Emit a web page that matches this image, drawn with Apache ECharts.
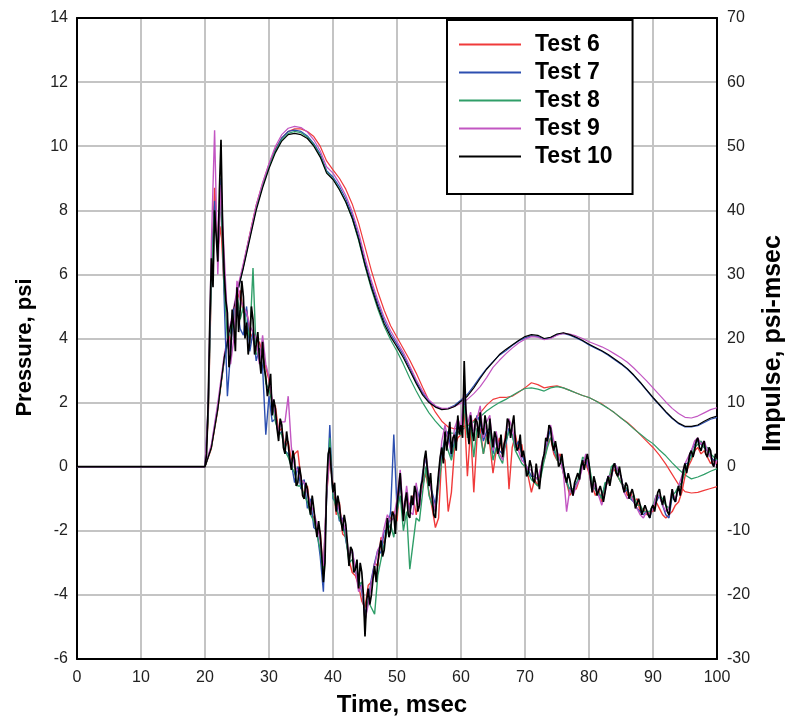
<!DOCTYPE html>
<html>
<head>
<meta charset="utf-8">
<script src="https://cdn.jsdelivr.net/npm/echarts@6/dist/echarts.min.js"></script>
<style>
  html, body { margin: 0; padding: 0; background: #fff; }
  #chart { width: 788px; height: 719px; }
</style>
</head>
<body>
<div id="chart"></div>
<script>
// pressure traces, psi, flat zero before 20 ms
// tests 6-9 sampled every 0.5 ms, test 10 every 0.25 ms
var pStart = 20, pStep = 0.5, pStepFine = 0.25;
var press6 = [
  0, 1.5, 5.8, 8.7, 6.8, 7.5, 5.5, 4.4, 3.8, 4.8,
  5.2, 5.5, 4.8, 4.9, 4.2, 4.0, 3.6, 3.9, 3.5, 3.1,
  2.7, 2.0, 1.9, 1.1, 1.2, 0.6, 0.8, 0.2, 0.4, 0.5,
  -0.4, -1.0, -0.6, -1.4, -1.6, -2.1, -2.0, -3.3, -0.9, 0.3,
  -0.6, -1.5, -1.1, -2.1, -2.2, -2.9, -3.3, -3.4, -3.7, -4.2,
  -4.4, -3.7, -3.6, -3.0, -3.1, -2.2, -2.4, -1.8, -1.6, -1.4,
  -1.7, -0.4, -1.4, -1.0, -1.2, -0.9, -1.5, -1.0, -0.6, -0.2,
  -0.8, -1.3, -1.9, -1.6, 0.4, 0.2, -1.4, -0.8, 0.6, 0.9,
  1.0, 1.8, -0.3, 1.2, -0.8, 0.9, 1.2, 0.4, 1.0, 0.7,
  -0.2, 0.5, 0.9, 0.4, 1.1, -0.7, 0.6, 1.0, 0.5, 0.7,
  0.0, -0.3, -0.8, -0.4, -0.6, 0.0, 0.2, 0.7, 0.9, 0.4,
  0.2, 0.4, -0.2, -0.5, -0.9, -0.7, -0.7, -0.4, 0.2, 0.1,
  -0.2, -0.6, -0.9, -0.7, -1.1, -0.6, -0.5, -0.1, -0.1, -0.3,
  -0.5, -0.6, -0.9, -0.8, -1.1, -1.0, -1.4, -1.3, -1.5, -1.4,
  -1.4, -1.1, -1.3, -1.5, -1.6, -1.5, -1.4, -1.2, -1.1, -0.8,
  -0.3, 0.0, 0.2, 0.5, 0.6, 0.4, 0.5, 0.3, 0.1, 0.2, 0.1
];
var press7 = [
  0, 1.8, 6.2, 8.3, 6.6, 9.0, 5.2, 2.2, 3.6, 4.9,
  5.0, 4.3, 4.1, 5.0, 3.6, 4.2, 3.3, 3.7, 3.1, 1.0,
  2.2, 1.4, 1.5, 1.0, 1.1, 0.5, 0.4, 0.1, -0.5, 0.0,
  -0.7, -0.4, -1.3, -1.0, -1.9, -2.0, -2.8, -3.9, -1.0, 1.3,
  -1.0, -1.1, -1.7, -1.6, -2.3, -2.8, -2.6, -3.3, -3.5, -3.9,
  -4.6, -4.2, -3.5, -3.0, -2.6, -2.7, -2.0, -2.0, -1.4, 1.0,
  -1.3, -0.5, -1.4, -0.9, -1.4, -1.0, -0.6, -1.0, -0.2, 0.3,
  -0.5, -0.8, -1.2, -0.3, 0.4, 0.9, 1.1, 0.3, 0.8, 1.4,
  1.1, 2.2, 1.0, 1.4, 1.0, 1.6, 1.4, 0.8, 1.1, 1.2,
  0.4, 1.0, 0.5, 0.4, 0.7, 1.2, 1.0, 0.6, 0.8, 0.4,
  0.1, -0.1, -0.3, -0.3, -0.4, -0.1, 0.4, 0.8, 1.2, 0.5,
  0.3, 0.2, 0.0, -0.5, -0.7, -0.7, -0.5, -0.4, 0.2, 0.2,
  -0.1, -0.6, -0.7, -0.9, -0.9, -0.6, -0.3, -0.3, 0.1, -0.1,
  -0.3, -0.8, -0.7, -1.0, -1.1, -1.3, -1.4, -1.5, -1.4, -1.6,
  -1.2, -1.1, -0.9, -1.2, -1.5, -1.6, -0.9, -1.1, -0.6, -0.5,
  0.1, 0.1, 0.5, 0.7, 0.8, 0.7, 0.6, 0.5, 0.3, 0.2, 0.2
];
var press8 = [
  0, 1.6, 6.0, 8.0, 6.9, 8.4, 5.6, 4.0, 4.2, 4.5,
  5.4, 4.6, 5.0, 4.4, 4.0, 6.2, 3.5, 3.6, 3.7, 2.6,
  2.4, 2.0, 1.4, 1.1, 1.0, 0.5, 0.3, 0.0, -0.2, -0.6,
  -0.6, -0.9, -1.1, -1.5, -1.7, -2.1, -2.6, -3.4, -0.8, 0.9,
  -0.9, -1.3, -1.6, -1.9, -2.2, -3.0, -2.9, -3.2, -3.7, -3.6,
  -4.8, -4.2, -4.4, -4.6, -3.4, -2.9, -2.4, -2.0, -1.8, -2.2,
  -1.4, -0.9, -2.0, -1.4, -3.2, -2.4, -1.6, -1.7, -0.8, 0.0,
  -0.9, -1.2, -1.4, -0.6, 0.2, 0.8, 0.5, 0.2, 0.7, 1.1,
  1.0, 1.9, 0.9, 1.3, 0.3, 1.2, 1.0, 0.4, 0.9, 1.1,
  0.2, 0.6, 0.3, 0.1, 0.8, 1.1, 1.0, 0.5, 0.3, 0.1,
  0.0, -0.2, -0.4, -0.5, -0.6, -0.3, 0.2, 0.6, 0.9, 0.7,
  0.2, 0.3, -0.2, -0.4, -0.8, -0.7, -0.6, -0.2, 0.3, 0.2,
  0.1, -0.5, -0.7, -0.8, -1.0, -0.5, -0.5, 0.0, 0.1, -0.3,
  -0.5, -0.6, -0.7, -1.0, -0.9, -1.2, -1.2, -1.4, -1.4, -1.4,
  -1.2, -0.9, -0.9, -1.0, -1.2, -1.3, -0.9, -0.8, -0.6, -0.5,
  -0.1, 0.1, 0.3, 0.6, 0.7, 0.8, 0.6, 0.6, 0.4, 0.3, 0.2
];
var press9 = [
  0, 1.9, 7.0, 10.5, 6.0, 8.8, 6.6, 4.6, 3.2, 4.0,
  5.8, 5.2, 5.0, 4.8, 4.4, 4.2, 4.0, 3.2, 4.1, 3.2,
  2.8, 2.1, 1.6, 1.1, 1.4, 1.4, 2.2, 0.6, 0.0, -0.1,
  -0.4, -0.5, -0.8, -1.2, -1.4, -1.8, -2.3, -3.1, -0.8, 0.4,
  -0.7, -1.0, -1.4, -1.7, -2.0, -2.8, -2.6, -3.2, -3.9, -3.7,
  -4.8, -4.3, -3.6, -3.1, -2.6, -2.4, -1.9, -1.5, -1.7, -1.6,
  -1.0, -0.1, -1.5, -0.6, -1.4, -1.5, -0.5, -1.3, -0.3, 0.4,
  -0.3, -0.9, -1.4, -0.4, 0.8, 1.3, 0.8, 0.5, 1.2, 1.5,
  1.2, 2.5, 1.3, 1.7, 1.0, 1.5, 1.9, 0.9, 1.4, 1.6,
  0.5, 1.1, 0.4, 0.2, 1.0, 1.5, 1.2, 0.7, 0.5, 0.2,
  0.1, -0.1, -0.1, -0.3, -0.4, 0.0, 0.4, 1.0, 1.3, 0.8,
  0.5, 0.2, -0.2, -1.4, -0.7, -0.9, -0.6, -0.4, 0.0, 0.4,
  -0.1, -0.8, -0.5, -0.9, -1.2, -0.8, -0.3, -0.3, 0.1, -0.1,
  -0.3, -0.8, -1.0, -0.9, -1.1, -1.3, -1.5, -1.6, -1.4, -1.5,
  -1.3, -0.9, -0.9, -1.2, -1.4, -1.3, -0.7, -1.1, -0.6, -0.3,
  0.1, 0.3, 0.5, 0.8, 0.9, 0.7, 0.8, 0.5, 0.3, 0.0, 0.2
];
var press10 = [
  0, 0.4, 2.0, 4.5, 6.5, 5.6, 8.0, 7.2, 6.4, 8.6,
  10.2, 7.5, 6.0, 5.2, 4.8, 3.1, 3.5, 4.9, 4.4, 3.6,
  5.6, 4.2, 4.9, 5.8, 5.3, 4.0, 4.5, 3.5, 3.9, 5.0,
  4.6, 3.5, 3.8, 4.2, 3.4, 2.9, 3.9, 3.1, 2.8, 2.2,
  2.5, 2.9, 1.6, 2.1, 1.8, 1.2, 0.8, 1.5, 1.3, 0.6,
  0.4, 1.1, 0.7, 0.2, -0.1, 0.5, 0.2, -0.6, -0.5, 0.0,
  -0.3, -0.9, -1.0, -0.5, -0.7, -1.2, -1.5, -0.9, -1.3, -1.8,
  -2.2, -1.7, -2.1, -2.8, -3.6, -3.0, -0.6, 0.4, 0.6, -0.2,
  -0.8, -0.5, -1.4, -0.9, -1.2, -1.7, -2.0, -1.5, -1.8, -2.4,
  -3.1, -2.5, -2.6, -3.3, -3.2, -2.9, -3.8, -3.0, -3.3, -4.0,
  -5.3, -4.2, -3.8, -4.3, -4.0, -3.5, -3.1, -3.6, -3.0, -2.6,
  -2.3, -2.8, -2.6, -2.1, -1.6, -2.2, -2.0, -1.4, -1.5, -2.1,
  -1.2, -0.7, -0.2, -1.0, -1.7, -1.1, -0.8, -1.5, -1.6, -0.9,
  -1.2, -0.6, -0.8, -1.4, -1.2, -0.6, -0.4, 0.2, 0.5, -0.1,
  -0.6, -0.2, -1.0, -1.5, -1.6, -0.8, -0.2, 0.3, 0.6, 0.1,
  1.1, 0.5, 0.9, 1.4, 0.4, 0.9, 1.0, 0.5, 1.6, 1.0,
  1.3, 0.9, 3.3, 1.8, 1.2, 0.7, 1.6, 1.1, 0.8, 1.5,
  1.4, 0.9, 1.7, 1.2, 1.0, 1.6, 1.3, 0.7, 1.5, 1.0,
  0.6, 1.1, 0.9, 0.4, 0.6, 1.0, 0.3, 0.7, 0.9, 1.5,
  1.4, 0.9, 1.3, 1.6, 0.8, 0.5, 0.6, 1.0, 0.3, 0.5,
  0.2, -0.3, -0.2, 0.2, 0.0, -0.4, -0.5, 0.1, -0.3, -0.7,
  -0.2, 0.2, 0.4, 0.9, 0.8, 1.3, 1.2, 0.7, 0.5, 0.8,
  0.5, 0.0, 0.1, 0.4, 0.0, -0.3, -0.5, -0.2, -0.4, -0.7,
  -0.9, -0.5, -0.5, -0.2, -0.4, 0.0, 0.2, -0.1, 0.2, 0.4,
  0.1, -0.4, -0.8, -0.3, -0.5, -0.9, -0.9, -0.6, -0.8, -1.1,
  -0.8, -0.5, -0.3, -0.6, -0.3, 0.0, 0.1, -0.2, -0.3, 0.0,
  -0.3, -0.6, -0.8, -0.5, -0.6, -1.0, -1.0, -0.7, -0.9, -1.3,
  -1.3, -1.0, -1.2, -1.5, -1.5, -1.2, -1.2, -1.5, -1.6, -1.3,
  -1.2, -1.4, -1.1, -0.8, -0.7, -1.0, -1.2, -0.9, -1.2, -1.4,
  -1.5, -1.1, -0.7, -1.0, -1.1, -0.8, -0.6, -0.9, -0.5, -0.1,
  0.1, -0.2, 0.1, 0.4, 0.5, 0.3, 0.5, 0.8, 0.9, 0.6,
  0.5, 0.7, 0.8, 0.4, 0.3, 0.6, 0.5, 0.1, 0.0, 0.4,
  0.3
];

// impulse curves, psi-msec, every 1 ms from 20 ms
var iStart = 20, iStep = 1;
var imp6 = [
  0, 2.8, 8.8, 16.5, 21.8, 27, 31.5, 36.3, 40.8, 44.2,
  47.2, 49.6, 51.3, 52.3, 52.7, 52.7, 52.3, 51.5, 50, 47.7,
  46.3, 45, 43.3, 41, 38, 34.3, 30.6, 27.3, 24.4, 22,
  20.2, 18.4, 16.6, 14.6, 12.4, 10.3, 8.5, 7.1, 6.2, 5.9,
  6.1, 6.5, 7.2, 8.4, 9.6, 10.5, 10.8, 10.8, 11, 11.6,
  12.3, 13.1, 12.8, 12.3, 12.5, 12.6, 12.3, 11.9, 11.5, 11.1,
  10.8, 10.3, 9.8, 9.1, 8.4, 7.6, 6.9, 6, 5, 4,
  3, 1.8, 0.4, -1.2, -2.8, -3.9, -4.1, -4, -3.7, -3.4, -3.1
];
var imp7 = [
  0, 3.2, 9.5, 16.5, 21.5, 26.8, 31.2, 35.8, 40.3, 43.8,
  46.8, 49.4, 51.3, 52.3, 52.5, 52.3, 51.6, 50.4, 48.8, 46.2,
  45.2, 43.7, 41.8, 39.3, 36, 32, 28.5, 25.5, 22.8, 20.7,
  19.1, 17.4, 15.4, 13.3, 11.5, 10.2, 9.4, 9, 9.1, 9.6,
  10.4, 11.3, 12.6, 14, 15.3, 16.4, 17.4, 18.1, 18.9, 19.6,
  20.1, 20.4, 20.3, 19.9, 20.1, 20.6, 20.8, 20.5, 20.1, 19.6,
  19, 18.5, 18, 17.4, 16.7, 16, 15.2, 14.2, 13.1, 11.9,
  10.7, 9.6, 8.5, 7.5, 6.7, 6.2, 6.2, 6.4, 6.9, 7.4, 7.7
];
var imp8 = [
  0, 3, 9, 16.8, 22, 27.2, 31.4, 36, 40.4, 43.8,
  46.8, 49.2, 51, 52, 52.3, 52.1, 51.4, 50.2, 48.5, 46,
  44.9, 43.3, 41.3, 38.7, 35.3, 31.3, 27.7, 24.6, 21.9, 19.8,
  18, 16, 13.8, 11.8, 10, 8.4, 7.1, 6, 5.3, 5.2,
  5.7, 6.3, 7, 7.8, 8.7, 9.4, 10, 10.5, 11.1, 11.7,
  12.2, 12.3, 12.1, 11.8, 12.3, 12.5, 12.3, 11.9, 11.5, 11.1,
  10.8, 10.3, 9.7, 9.1, 8.4, 7.6, 6.8, 5.9, 5.1, 4.3,
  3.6, 2.6, 1.7, 0.6, -0.4, -1.3, -1.9, -1.6, -1.2, -0.7, -0.3
];
var imp9 = [
  0, 3.5, 10, 17.5, 22.5, 27.5, 31.8, 36.3, 40.8, 44.3,
  47.3, 50, 51.8, 52.8, 53.1, 52.9, 52.2, 51, 49.3, 46.8,
  45.8, 44.2, 42.3, 39.8, 36.6, 32.6, 29, 26, 23.3, 21.2,
  19.5, 17.8, 15.7, 13.6, 11.8, 10.4, 9.5, 9.1, 9.1, 9.4,
  9.9, 10.5, 11.4, 12.5, 13.9, 15.5, 16.6, 17.6, 18.5, 19.3,
  19.9, 20.3, 20.2, 19.8, 20, 20.5, 20.8, 20.7, 20.4, 20,
  19.5, 19.1, 18.7, 18.2, 17.6, 17, 16.3, 15.4, 14.4, 13.4,
  12.3, 11.2, 10.1, 9.1, 8.3, 7.7, 7.6, 7.9, 8.4, 8.9, 9.2
];
var imp10 = [
  0, 3, 9, 17, 22, 27, 31, 35.5, 40, 43.5,
  46.5, 49, 50.8, 51.8, 52, 51.8, 51.2, 50, 48.3, 45.8,
  44.8, 43.2, 41.3, 38.8, 35.5, 31.5, 28, 25, 22.3, 20.3,
  18.7, 17, 15, 13, 11.2, 10, 9.3, 8.9, 9.0, 9.4,
  10.2, 11, 12.3, 13.8, 15.2, 16.3, 17.5, 18.3, 19, 19.7,
  20.3, 20.6, 20.5, 20, 20.2, 20.7, 20.9, 20.6, 20.2, 19.7,
  19.1, 18.6, 18.1, 17.5, 16.8, 16.1, 15.3, 14.3, 13.2, 12,
  10.8, 9.7, 8.6, 7.6, 6.8, 6.3, 6.3, 6.5, 7.1, 7.6, 7.9
];

var names = ['Test 6', 'Test 7', 'Test 8', 'Test 9', 'Test 10'];
var colors = ['#f03a3a', '#2c4fb0', '#2f9e68', '#c256c2', '#000000'];
var pressures = [press6, press7, press8, press9, press10];
var pSteps = [pStep, pStep, pStep, pStep, pStepFine];
var impulses = [imp6, imp7, imp8, imp9, imp10];

function toPairs(vals, t0, dt) {
  var out = [[0, 0]];
  vals.forEach(function (v, i) { out.push([t0 + i * dt, v]); });
  return out;
}

var series = [];
impulses.forEach(function (arr, k) {
  series.push({
    name: names[k], type: 'line', yAxisIndex: 1, showSymbol: false, silent: true,
    data: toPairs(arr, iStart, iStep),
    lineStyle: { color: colors[k], width: 1.2 }, itemStyle: { color: colors[k] }
  });
});
pressures.forEach(function (arr, k) {
  series.push({
    name: names[k], type: 'line', yAxisIndex: 0, showSymbol: false, silent: true,
    data: toPairs(arr, pStart, pSteps[k]),
    lineStyle: { color: colors[k], width: k == 4 ? 1.7 : 1.4 }, itemStyle: { color: colors[k] }
  });
});

var fam = 'Liberation Sans, Arial, sans-serif';
var labelFont = { fontFamily: fam, fontSize: 16, color: '#222' };
function titleFont(size, pad) {
  return { fontFamily: fam, fontSize: size, fontWeight: 'bold', color: '#000', padding: pad };
}
var frame = { show: true, onZero: false, lineStyle: { color: '#000', width: 2 } };
var gridLine = { show: true, lineStyle: { color: '#c4c4c4', width: 2 } };

var chart = echarts.init(document.getElementById('chart'), null, { renderer: 'canvas' });
chart.setOption({
  animation: false,
  backgroundColor: '#fff',
  grid: { left: 77, right: 71, top: 18, bottom: 60, containLabel: false, outerBoundsMode: 'none' },
  legend: {
    data: names, left: 447, top: 20, orient: 'vertical', z: 10,
    backgroundColor: '#fff', borderColor: '#000', borderWidth: 2,
    padding: [13, 20, 26, 12], itemGap: 5, itemWidth: 62, itemHeight: 2, icon: 'rect',
    textStyle: { fontFamily: fam, fontSize: 23, fontWeight: 'bold', color: '#000', lineHeight: 23, padding: [0, 0, 0, 9] }
  },
  xAxis: [{
    type: 'value', min: 0, max: 100, interval: 10, position: 'bottom',
    name: 'Time, msec', nameLocation: 'middle', nameGap: 34, nameTextStyle: titleFont(24, [0, 0, 0, 10]),
    axisLine: frame, axisTick: { show: false },
    axisLabel: Object.assign({ margin: 11 }, labelFont),
    splitLine: gridLine
  }, {
    type: 'value', min: 0, max: 100, interval: 10, position: 'top',
    axisLine: frame, axisTick: { show: false }, axisLabel: { show: false }, splitLine: { show: false }
  }],
  yAxis: [{
    type: 'value', min: -6, max: 14, interval: 2, position: 'left',
    name: 'Pressure, psi', nameLocation: 'middle', nameGap: 41, nameTextStyle: titleFont(22, [0, 18, 0, 0]),
    axisLine: frame, axisTick: { show: false },
    axisLabel: Object.assign({ margin: 9 }, labelFont),
    splitLine: gridLine
  }, {
    type: 'value', min: -30, max: 70, interval: 10, position: 'right',
    name: 'Impulse, psi-msec', nameLocation: 'middle', nameGap: 35, nameRotate: 90, nameTextStyle: titleFont(25, [0, 10, 0, 0]),
    axisLine: frame, axisTick: { show: false },
    axisLabel: Object.assign({ margin: 10 }, labelFont),
    splitLine: { show: false }
  }],
  series: series
});
</script>
</body>
</html>
